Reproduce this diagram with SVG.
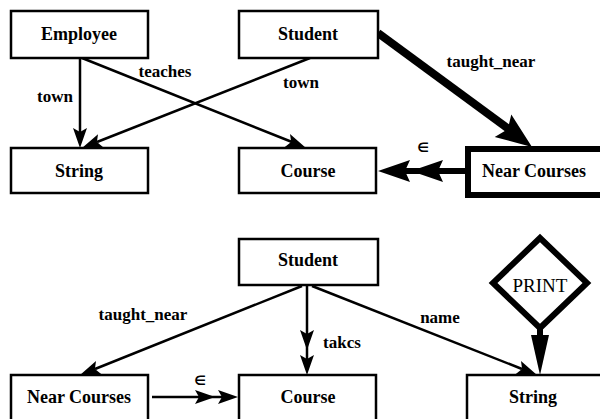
<svg xmlns="http://www.w3.org/2000/svg" width="600" height="419" viewBox="0 0 600 419">
  <style>
    .box { fill: #fff; stroke: #000; stroke-width: 2.5; }
    .boxThick { fill: #fff; stroke: #000; stroke-width: 6; }
    .name { font-family: "Liberation Serif", "Times New Roman", serif; font-weight: bold; font-size: 18px; text-anchor: middle; fill: #000; }
    .lbl { font-family: "Liberation Serif", "Times New Roman", serif; font-weight: bold; font-size: 17px; text-anchor: middle; fill: #000; }
    .elem { font-family: "DejaVu Sans", sans-serif; font-weight: bold; font-size: 13px; text-anchor: middle; fill: #000; }
    .print { font-family: "Liberation Serif", "Times New Roman", serif; font-size: 19px; text-anchor: middle; fill: #000; }
    .edge { fill: none; stroke: #000; stroke-width: 2.5; }
    .edgeThick { fill: none; stroke: #000; stroke-width: 8; }
    .edgeMid { fill: none; stroke: #000; stroke-width: 6; }
    .head { fill: #000; stroke: none; }
  </style>

  <!-- connectors: shafts first, then the filled arrowheads -->
  <g id="connectors">
    <!-- upper schema -->
    <path class="edge" d="M80,58 L80,134"/>
    <polygon class="head" points="80,148 73,128 80,132 87,128"/>

    <path class="edge" d="M82,58 L292,142"/>
    <polygon class="head" points="306,148 284.8,147 291.2,142 290,134"/>

    <path class="edge" d="M310,58 L97,142"/>
    <polygon class="head" points="82,148 98,134.2 96.9,142.1 103.2,147.2"/>

    <path class="edgeThick" d="M378,33 L510,130"/>
    <polygon class="head" points="532,147 494.7,137 507.8,129.2 511.3,114.4"/>

    <path class="edgeMid" d="M465,171 L400,171"/>
    <polygon class="head" points="378,171 410,160 405,171 410,182"/>
    <polygon class="head" points="411,171 443,160 438,171 443,182"/>

    <!-- lower query -->
    <path class="edge" d="M302,286 L95,369"/>
    <polygon class="head" points="80,375 96,361.1 94.9,369.1 101.2,374.1"/>

    <path class="edge" d="M307,286 L307,360"/>
    <polygon class="head" points="307,350 300,330 307,334 314,330"/>
    <polygon class="head" points="307,375 300,355 307,359 314,355"/>

    <path class="edge" d="M312,286 L522,369"/>
    <polygon class="head" points="537,375 515.8,374.1 522.1,369.1 521,361.1"/>

    <path class="edge" d="M152,397 L225,397"/>
    <polygon class="head" points="215,397 195,390 199,397 195,404"/>
    <polygon class="head" points="238,397 218,390 222,397 218,404"/>

    <path class="edgeMid" d="M540,328 L540,345"/>
    <polygon class="head" points="540,375 531,335 549,335"/>
  </g>

  <!-- labels on connectors -->
  <g id="edge-labels">
    <text class="lbl" x="165" y="77">teaches</text>
    <text class="lbl" x="55" y="102">town</text>
    <text class="lbl" x="301" y="88">town</text>
    <text class="lbl" x="491" y="67">taught_near</text>
    <text class="elem" x="423" y="152">∈</text>
    <text class="lbl" x="143" y="320">taught_near</text>
    <text class="lbl" x="342" y="348">takcs</text>
    <text class="lbl" x="440" y="323">name</text>
    <text class="elem" x="200" y="385">∈</text>
  </g>

  <!-- upper schema nodes -->
  <g id="employee">
    <rect class="box" x="11" y="11" width="137" height="47"/>
    <text class="name" x="79" y="40">Employee</text>
  </g>
  <g id="student-top">
    <rect class="box" x="239" y="11" width="139" height="47"/>
    <text class="name" x="308" y="40">Student</text>
  </g>
  <g id="string-top">
    <rect class="box" x="11" y="148" width="137" height="45"/>
    <text class="name" x="79" y="177">String</text>
  </g>
  <g id="course-top">
    <rect class="box" x="239" y="148" width="137" height="45"/>
    <text class="name" x="308" y="177">Course</text>
  </g>
  <g id="near-courses-top">
    <rect class="boxThick" x="468" y="149" width="140" height="46"/>
    <text class="name" x="534" y="177">Near Courses</text>
  </g>

  <!-- lower query nodes -->
  <g id="student-bottom">
    <rect class="box" x="239" y="239" width="139" height="46"/>
    <text class="name" x="308" y="266">Student</text>
  </g>
  <g id="print">
    <polygon points="540,238 587,283 540,328 493,283" fill="#fff" stroke="#000" stroke-width="6" stroke-linejoin="miter"/>
    <text class="print" x="540" y="292">PRINT</text>
  </g>
  <g id="near-courses-bottom">
    <rect class="box" x="11" y="375" width="137" height="60"/>
    <text class="name" x="79" y="403">Near Courses</text>
  </g>
  <g id="course-bottom">
    <rect class="box" x="239" y="375" width="137" height="60"/>
    <text class="name" x="308" y="403">Course</text>
  </g>
  <g id="string-bottom">
    <rect class="box" x="467" y="375" width="145" height="60"/>
    <text class="name" x="533" y="403">String</text>
  </g>
</svg>
